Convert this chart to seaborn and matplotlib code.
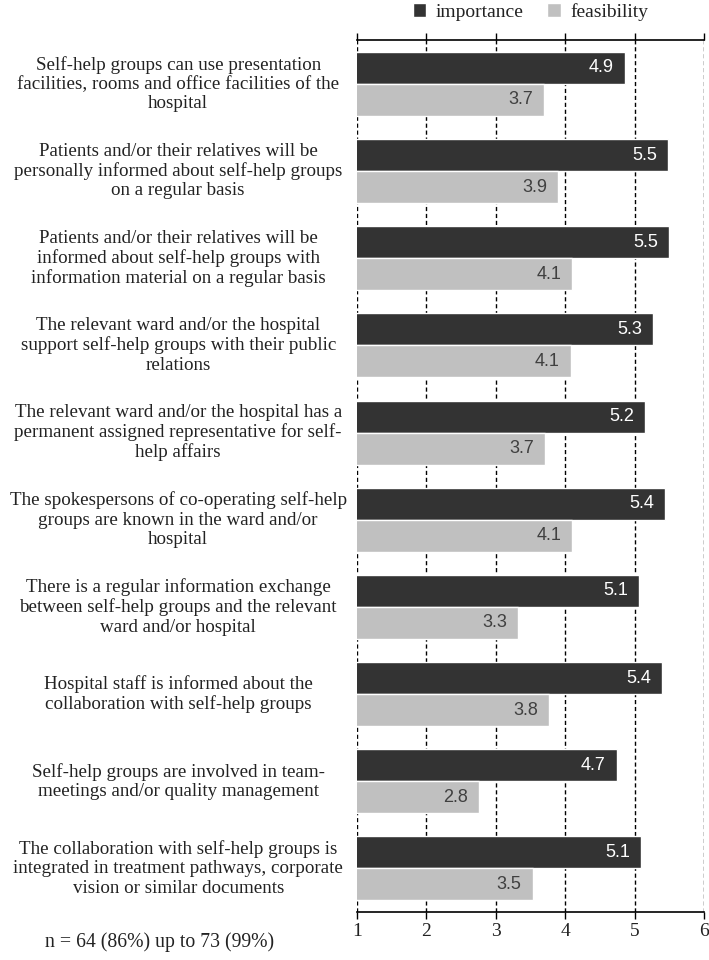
import pandas as pd
import matplotlib
matplotlib.use("Agg")
import matplotlib.pyplot as plt
import matplotlib.transforms as mtransforms
import seaborn as sns

# items (wrapped as in the original figure)
items = [
    "Self-help groups can use presentation\nfacilities, rooms and office facilities of the\nhospital",
    "Patients and/or their relatives will be\npersonally informed about self-help groups\non a regular basis",
    "Patients and/or their relatives will be\ninformed about self-help groups with\ninformation material on a regular basis",
    "The relevant ward and/or the hospital\nsupport self-help groups with their public\nrelations",
    "The relevant ward and/or the hospital has a\npermanent assigned representative for self-\nhelp affairs",
    "The spokespersons of co-operating self-help\ngroups are known in the ward and/or\nhospital",
    "There is a regular information exchange\nbetween self-help groups and the relevant\nward and/or hospital",
    "Hospital staff is informed about the\ncollaboration with self-help groups",
    "Self-help groups are involved in team-\nmeetings and/or quality management",
    "The collaboration with self-help groups is\nintegrated in treatment pathways, corporate\nvision or similar documents",
]
importance = [4.86, 5.48, 5.50, 5.27, 5.15, 5.44, 5.07, 5.40, 4.74, 5.09]
feasibility = [3.69, 3.90, 4.10, 4.08, 3.71, 4.10, 3.32, 3.77, 2.76, 3.53]
measures = ["importance", "feasibility"]
bar_colors = ["#333333", "#c0c0c0"]
note = "n = 64 (86%) up to 73 (99%)"

df = pd.DataFrame({
    "item": items * 2,
    "value": importance + feasibility,
    "measure": ["importance"] * len(items) + ["feasibility"] * len(items),
})

sns.set_style("white")
serif = ["Liberation Serif", "DejaVu Serif"]
sans = ["Liberation Sans", "DejaVu Sans"]

fig = plt.figure(figsize=(7.09, 9.6), dpi=100)
ax = fig.add_axes([0.5035, 0.05, 0.4895, 0.908])

sns.barplot(data=df, y="item", x="value", hue="measure", hue_order=measures,
            palette=bar_colors, orient="h", width=0.735, saturation=1,
            ax=ax, legend=True)

ax.set_xlim(1, 6)
ax.set_xticks([1, 2, 3, 4, 5, 6])
ax.set_xticklabels(["1", "2", "3", "4", "5", "6"], fontfamily=serif, fontsize=14)
ax.set_xlabel("")
ax.set_ylabel("")
ax.tick_params(axis="x", top=True, bottom=True, labeltop=False, direction="out",
               length=5, width=1, color="black", pad=3, labelcolor="#222222")
ax.tick_params(axis="y", left=False, labelleft=False)

# dashed vertical grid
for v in [1, 2, 3, 4, 5, 6]:
    ax.axvline(v, color="black", linestyle=(0, (3, 2)), linewidth=1, zorder=0.5)
for side in ["left", "right"]:
    ax.spines[side].set_visible(False)
for side in ["top", "bottom"]:
    ax.spines[side].set_color("black")
    ax.spines[side].set_linewidth(1.2)

# category labels, centered to the left of the axes
trans = mtransforms.blended_transform_factory(ax.transAxes, ax.transData)
for i, label in enumerate(items):
    ax.text(-0.515, i, label, transform=trans, ha="center", va="center",
            fontfamily=serif, fontsize=13.7, color="#222222", linespacing=1.17)

# value labels inside the bar ends
for container, tcol in zip(ax.containers, ["white", "#404040"]):
    for patch in container:
        w = patch.get_x() + patch.get_width()
        yc = patch.get_y() + patch.get_height() / 2
        ax.annotate(f"{w:.1f}", (w, yc), xytext=(-11, 0), textcoords="offset pixels",
                    ha="right", va="center", fontfamily=sans, fontsize=13, color=tcol)

leg = ax.legend(loc="lower center", bbox_to_anchor=(0.5, 1.0), ncol=2, frameon=False,
                handlelength=0.7, handleheight=0.7, handletextpad=0.5,
                columnspacing=1.2, borderaxespad=0.6,
                prop={"family": serif, "size": 14})
for t in leg.get_texts():
    t.set_color("#222222")

fig.text(0.063, 0.014, note, fontfamily=serif, fontsize=14.2, color="#222222")

fig.savefig("out.png", dpi=100)
